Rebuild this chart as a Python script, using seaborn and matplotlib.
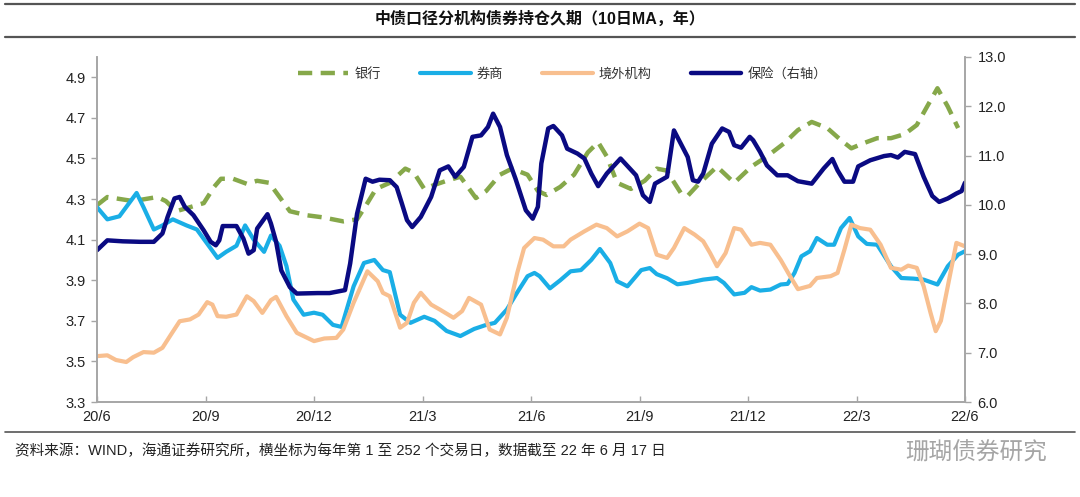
import numpy as np
import pandas as pd
import matplotlib
matplotlib.use("Agg")
import matplotlib.pyplot as plt
import seaborn as sns
from matplotlib.lines import Line2D

# x = trading day index (252 per year, from 20/6 to 22/6)
bank_day = [0, 6, 21, 35, 40, 46, 54, 62, 68, 72, 79, 87, 93, 100, 106, 112, 122, 131, 143, 151, 157, 162, 170,
            179, 184, 190, 196, 203, 211, 220, 226, 234, 241, 250, 256, 261, 269, 277, 285, 291, 296, 302, 310,
            318, 325, 331, 333, 339, 343, 350, 360, 370, 380, 389, 399, 407, 415, 424, 432, 438, 445, 453, 461,
            469, 476, 482, 488, 494, 500]
bank_val = [4.27, 4.31, 4.29, 4.31, 4.29, 4.24, 4.26, 4.28, 4.36, 4.40, 4.40, 4.375, 4.39, 4.38, 4.31, 4.24, 4.22,
            4.21, 4.19, 4.20, 4.28, 4.35, 4.38, 4.45, 4.43, 4.35, 4.37, 4.39, 4.41, 4.305, 4.34, 4.42, 4.45, 4.42,
            4.34, 4.32, 4.36, 4.42, 4.53, 4.58, 4.51, 4.38, 4.35, 4.39, 4.45, 4.44, 4.41, 4.33, 4.316, 4.38, 4.46,
            4.38, 4.46, 4.51, 4.575, 4.64, 4.68, 4.65, 4.59, 4.55, 4.575, 4.60, 4.60, 4.62, 4.665, 4.756, 4.846,
            4.756, 4.65]

broker_day = [0, 6, 13, 23, 27, 33, 38, 44, 52, 58, 64, 70, 75, 81, 86, 91, 97, 101, 106, 110, 114, 120, 126, 131,
              137, 142, 149, 155, 161, 166, 170, 176, 182, 190, 196, 203, 211, 219, 226, 231, 238, 244, 250, 254,
              257, 263, 269, 275, 281, 287, 292, 298, 302, 308, 316, 321, 325, 331, 337, 343, 352, 360, 364, 370,
              376, 380, 385, 391, 397, 401, 405, 409, 414, 418, 424, 428, 432, 437, 442, 447, 453, 461, 467, 474,
              480, 488, 494, 500, 504]
broker_val = [4.26, 4.20, 4.215, 4.33, 4.26, 4.15, 4.17, 4.20, 4.17, 4.15, 4.08, 4.01, 4.04, 4.07, 4.17, 4.10,
              4.04, 4.12, 4.07, 3.97, 3.805, 3.73, 3.74, 3.73, 3.68, 3.67, 3.87, 3.985, 4.0, 3.95, 3.94, 3.73, 3.69,
              3.72, 3.70, 3.65, 3.625, 3.66, 3.68, 3.69, 3.756, 3.84, 3.92, 3.936, 3.92, 3.86, 3.90, 3.944, 3.95,
              4.0, 4.054, 3.985, 3.895, 3.87, 3.95, 3.96, 3.93, 3.91, 3.88, 3.887, 3.903, 3.911, 3.887, 3.83,
              3.838, 3.866, 3.849, 3.854, 3.879, 3.882, 3.936, 4.018, 4.043, 4.108, 4.075, 4.075, 4.157, 4.207,
              4.116, 4.079, 4.075, 3.969, 3.911, 3.908, 3.903, 3.879, 3.969, 4.026, 4.043]

overseas_day = [0, 6, 11, 17, 21, 27, 33, 38, 43, 48, 54, 59, 64, 67, 70, 75, 81, 87, 91, 96, 101, 104, 110, 116,
                126, 132, 139, 143, 149, 157, 163, 166, 170, 176, 180, 184, 188, 194, 199, 207, 212, 216, 223, 228,
                234, 238, 244, 248, 254, 259, 265, 271, 275, 283, 290, 296, 302, 308, 315, 320, 325, 331, 335, 341,
                347, 352, 356, 360, 365, 370, 374, 380, 385, 391, 397, 402, 407, 414, 418, 426, 430, 434, 438, 443,
                449, 455, 461, 467, 471, 476, 480, 484, 487, 490, 494, 499, 504]
overseas_val = [3.526, 3.53, 3.507, 3.497, 3.521, 3.546, 3.543, 3.567, 3.633, 3.698, 3.707, 3.731, 3.792, 3.78,
                3.723, 3.72, 3.731, 3.821, 3.797, 3.739, 3.802, 3.818, 3.723, 3.641, 3.60, 3.613, 3.616, 3.657,
                3.789, 3.944, 3.895, 3.838, 3.821, 3.666, 3.69, 3.789, 3.838, 3.78, 3.756, 3.715, 3.748, 3.813,
                3.78, 3.657, 3.633, 3.715, 3.936, 4.059, 4.108, 4.10, 4.067, 4.067, 4.10, 4.141, 4.174, 4.157,
                4.116, 4.141, 4.179, 4.157, 4.026, 4.01, 4.059, 4.157, 4.125, 4.092, 4.034, 3.969, 4.034, 4.157,
                4.149, 4.075, 4.084, 4.075, 4.0, 3.926, 3.856, 3.872, 3.911, 3.92, 3.936, 4.051, 4.174, 4.157,
                4.149, 4.075, 3.961, 3.952, 3.972, 3.961, 3.87, 3.739, 3.649, 3.70, 3.87, 4.084, 4.067]

insur_day = [0, 6, 15, 25, 33, 38, 41, 45, 48, 51, 56, 62, 66, 69, 71, 73, 81, 85, 88, 91, 93, 99, 101, 104, 107,
             112, 116, 128, 135, 144, 147, 151, 156, 160, 164, 170, 174, 177, 180, 183, 188, 194, 199, 204, 208,
             213, 218, 223, 227, 230, 234, 238, 243, 249, 253, 256, 258, 262, 265, 270, 273, 279, 283, 287, 291,
             296, 304, 313, 317, 321, 324, 331, 335, 339, 343, 346, 349, 352, 357, 363, 367, 370, 374, 379, 381,
             385, 389, 395, 401, 407, 415, 422, 427, 430, 434, 439, 442, 449, 457, 461, 465, 469, 475, 480, 485,
             489, 494, 499, 502, 504]
insur_val = [9.08, 9.28, 9.26, 9.25, 9.25, 9.42, 9.755, 10.13, 10.16, 9.96, 9.79, 9.48, 9.25, 9.18, 9.28, 9.57,
             9.57, 9.315, 9.01, 9.08, 9.52, 9.81, 9.62, 9.25, 8.67, 8.33, 8.20, 8.21, 8.21, 8.27, 8.81, 9.82,
             10.53, 10.47, 10.51, 10.50, 10.36, 10.03, 9.69, 9.55, 9.755, 10.16, 10.70, 10.78, 10.57, 10.77,
             11.38, 11.41, 11.58, 11.85, 11.58, 11.01, 10.53, 9.89, 9.72, 9.96, 10.84, 11.55, 11.60, 11.41,
             11.14, 11.04, 10.94, 10.635, 10.38, 10.635, 10.94, 10.60, 10.195, 10.06, 10.43, 10.57, 11.51,
             11.24, 10.97, 10.50, 10.47, 10.635, 11.24, 11.55, 11.48, 11.21, 11.16, 11.38, 11.31, 11.075, 10.80,
             10.60, 10.60, 10.48, 10.43, 10.74, 10.93, 10.70, 10.47, 10.47, 10.78, 10.905, 10.99, 11.01, 10.96,
             11.075, 11.03, 10.57, 10.18, 10.06, 10.13, 10.23, 10.28, 10.45]

tick_days = [0, 63, 126, 189, 252, 315, 378, 441, 504]
tick_labels = ["20/6", "20/9", "20/12", "21/3", "21/6", "21/9", "21/12", "22/3", "22/6"]
left_ticks = [3.3, 3.5, 3.7, 3.9, 4.1, 4.3, 4.5, 4.7, 4.9]
right_ticks = [6, 7, 8, 9, 10, 11, 12, 13]

names = ["银行", "券商", "境外机构", "保险（右轴）"]
colors = ["#86A84A", "#1AAEE6", "#F8BF8F", "#0A0A82"]

sns.set_style("white")
plt.rcParams['font.family'] = ['Liberation Sans', 'Noto Sans CJK SC', 'DejaVu Sans']

fig = plt.figure(figsize=(10.8, 4.97), dpi=100)
ax = fig.add_axes([97/1080, 1-402/497, 868/1080, 345/497])
ax2 = ax.twinx()

sns.lineplot(x=bank_day, y=bank_val, ax=ax, color=colors[0], lw=3.2, linestyle=(0, (3.2, 1.9)), label=names[0])
sns.lineplot(x=broker_day, y=broker_val, ax=ax, color=colors[1], lw=3, label=names[1])
sns.lineplot(x=overseas_day, y=overseas_val, ax=ax, color=colors[2], lw=3, label=names[2])
sns.lineplot(x=insur_day, y=insur_val, ax=ax2, color=colors[3], lw=3.2, label=names[3])
ax.get_legend().remove()
ax2.get_legend().remove()

ax.set_xlim(0, 504)
ax.set_ylim(3.3, 5.0)
ax2.set_ylim(6, 13)
ax.set_xticks(tick_days)
ax.set_xticklabels(tick_labels)
ax.set_yticks(left_ticks)
ax.set_yticklabels([f"{v:.1f}" for v in left_ticks])
ax2.set_yticks(right_ticks)
ax2.set_yticklabels([f"{v:.1f}" for v in right_ticks])
ax.set_xlabel("")
ax.set_ylabel("")
ax2.set_ylabel("")

spine_c = "#A6A6A6"
for a in (ax, ax2):
    a.spines['top'].set_visible(False)
    for s in ('left', 'right', 'bottom'):
        a.spines[s].set_color(spine_c)
        a.spines[s].set_linewidth(1.2)
    a.grid(False)
ax.tick_params(axis='y', which='both', left=True, length=4, width=1, color=spine_c, labelsize=10.5, labelcolor="#222222", pad=4)
ax.tick_params(axis='x', which='both', bottom=True, length=4, width=1, color=spine_c, labelsize=10.5, labelcolor="#222222", pad=6, direction='in')
ax2.tick_params(axis='y', which='both', right=True, length=4, width=1, color=spine_c, labelsize=10.5, labelcolor="#222222", pad=5)

handles = [Line2D([], [], color=colors[0], lw=3.2, linestyle=(0, (3.2, 1.9))),
           Line2D([], [], color=colors[1], lw=3),
           Line2D([], [], color=colors[2], lw=3),
           Line2D([], [], color=colors[3], lw=3.2)]
leg = ax2.legend(handles, names, loc='center', bbox_to_anchor=(0.536, 0.95), ncol=4, frameon=False,
                 fontsize=9.5, handlelength=3.85, columnspacing=2.95, handletextpad=0.45)
for t in leg.get_texts():
    t.set_color("#333333")

# frame lines, title, source
fig.add_artist(Line2D([0.005, 0.995], [1-4/497, 1-4/497], color="#555555", lw=1.6))
fig.add_artist(Line2D([0.005, 0.995], [1-37/497, 1-37/497], color="#555555", lw=1.6))
fig.add_artist(Line2D([0.005, 0.995], [1-432/497, 1-432/497], color="#555555", lw=1.2))
fig.text(0.5, 1-19/497, "中债口径分机构债券持仓久期（10日MA，年）", ha='center', va='center',
         fontsize=11.5, fontweight='bold', color="#111111")
fig.text(15/1080, 1-451/497, "资料来源：WIND，海通证券研究所，横坐标为每年第 1 至 252 个交易日，数据截至 22 年 6 月 17 日",
         ha='left', va='center', fontsize=10.5, color="#222222")
fig.text(1047/1080, 1-453/497, "珊瑚债券研究", ha='right', va='center', fontsize=17, color="#A5A5A5")

fig.savefig("out.png", dpi=100)
plt.close('all')
